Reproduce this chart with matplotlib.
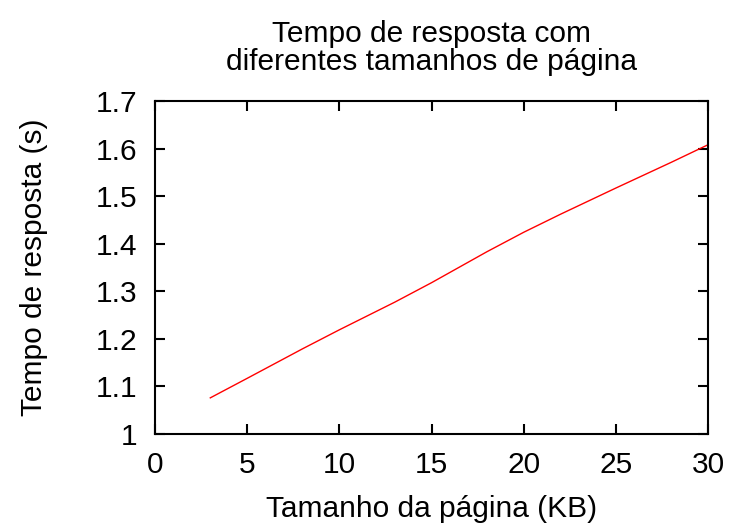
import matplotlib
matplotlib.use("Agg")
import matplotlib.pyplot as plt

plt.rcParams['font.family'] = ['Liberation Sans', 'DejaVu Sans']

# tamanho da pagina (KB) x tempo de resposta (s)
tamanho = [3, 5, 8, 10, 13, 15, 18, 20, 22, 25, 28, 30]
tempo = [1.076, 1.117, 1.179, 1.219, 1.277, 1.318, 1.383, 1.424, 1.462, 1.517, 1.571, 1.608]

xticks = [0, 5, 10, 15, 20, 25, 30]
yticks = [1, 1.1, 1.2, 1.3, 1.4, 1.5, 1.6, 1.7]

fs = 21.5

fig = plt.figure(figsize=(7.3, 5.28), dpi=100)
ax = fig.add_axes([155 / 730, 1 - 434 / 528, 553 / 730, 333 / 528])

ax.plot(tamanho, tempo, color='red', linewidth=1.0)

ax.set_xlim(0, 30)
ax.set_ylim(1, 1.7)
ax.set_xticks(xticks)
ax.set_xticklabels([str(t) for t in xticks])
ax.set_yticks(yticks)
ax.set_yticklabels(['1' if t == 1 else f'{t:.1f}' for t in yticks])

ax.tick_params(direction='in', length=7, width=1.5, top=True, right=True,
               labelsize=fs)
ax.tick_params(axis='x', pad=12)
ax.tick_params(axis='y', pad=13)
for s in ax.spines.values():
    s.set_linewidth(1.5)

ax.set_xlabel('Tamanho da página (KB)', fontsize=fs, labelpad=12)
ax.set_ylabel('Tempo de resposta (s)', fontsize=fs, labelpad=34)
ax.set_title('Tempo de resposta com\ndiferentes tamanhos de página',
             fontsize=fs, linespacing=1.0, pad=22)

fig.savefig('out.png', dpi=100)
